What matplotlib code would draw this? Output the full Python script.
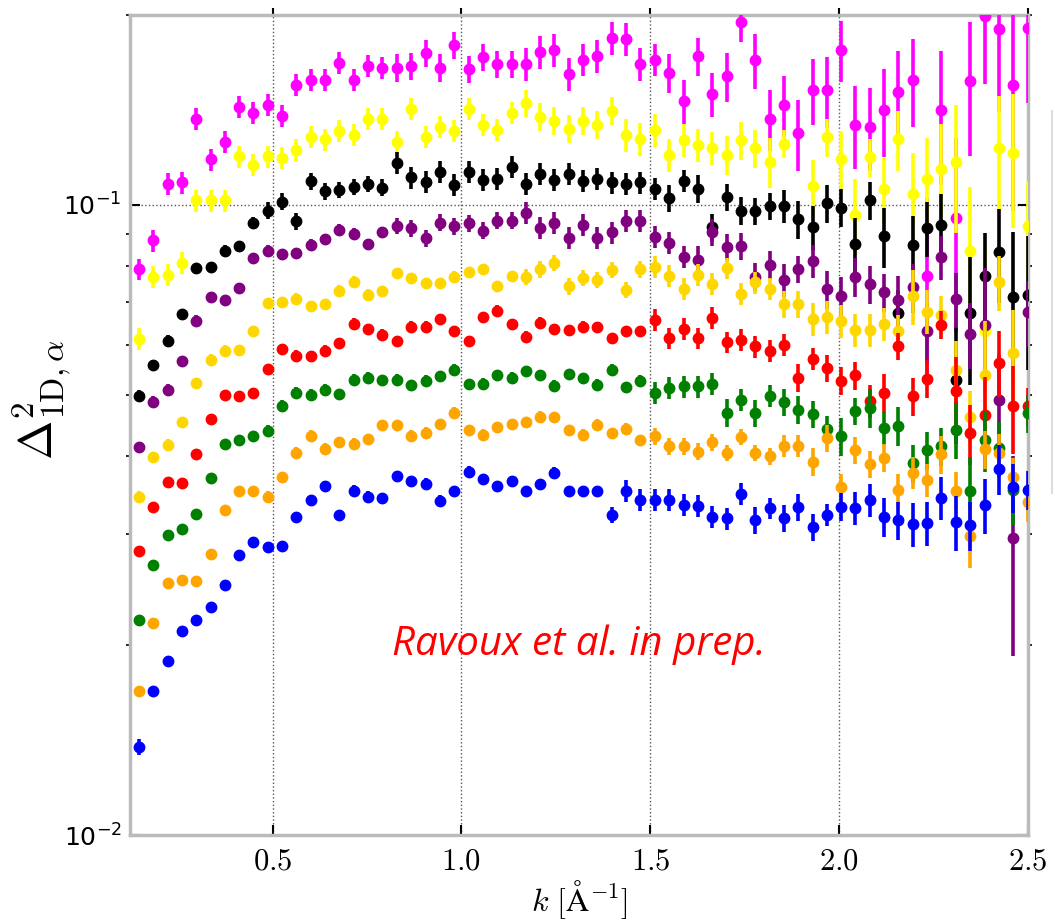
import numpy as np
import matplotlib
matplotlib.use('Agg')
import matplotlib.pyplot as plt
from matplotlib.ticker import FuncFormatter, LogLocator, FixedLocator
from matplotlib.lines import Line2D

plt.rcParams['mathtext.fontset'] = 'cm'
plt.rcParams['font.family'] = ['DejaVu Sans']

# ---- data ----
k = [0.146, 0.184, 0.222, 0.260, 0.298, 0.336, 0.373, 0.411, 0.449, 0.487,
     0.525, 0.563, 0.601, 0.639, 0.677, 0.715, 0.753, 0.791, 0.829, 0.867,
     0.905, 0.943, 0.981, 1.019, 1.057, 1.095, 1.133, 1.170, 1.208, 1.246,
     1.284, 1.322, 1.360, 1.398, 1.436, 1.474, 1.512, 1.550, 1.588, 1.626,
     1.664, 1.702, 1.740, 1.778, 1.816, 1.854, 1.892, 1.930, 1.967, 2.005,
     2.043, 2.081, 2.119, 2.157, 2.195, 2.233, 2.271, 2.309, 2.347, 2.385,
     2.423, 2.461, 2.499]

nan = np.nan

magenta = [0.079, 0.0878, 0.108, 0.1085, 0.137, 0.118, 0.126, 0.143, 0.140, 0.144,
           0.1385, 0.155, 0.158, 0.158, 0.168, 0.158, 0.166, 0.165, 0.165, 0.166,
           0.174, 0.165, 0.179, 0.164, 0.1715, 0.167, 0.167, 0.167, 0.175, 0.176,
           0.161, 0.170, 0.172, 0.184, 0.183, 0.167, 0.170, 0.162, 0.146, 0.172,
           0.150, 0.160, 0.195, 0.1695, 0.137, 0.144, 0.130, 0.152, 0.152, 0.176,
           0.134, 0.133, 0.1415, 0.151, 0.158, 0.0772, 0.1415, 0.0952, 0.157, 0.199,
           0.190, 0.155, 0.191]
yellow = [0.0612, 0.0769, 0.0774, 0.0808, 0.1016, 0.1016, 0.1016, 0.1193, 0.1157, 0.1193,
          0.1186, 0.1223, 0.128, 0.127, 0.131, 0.129, 0.137, 0.137, 0.126, 0.142,
          0.128, 0.133, 0.131, 0.142, 0.134, 0.1315, 0.140, 0.145, 0.138, 0.136,
          0.132, 0.136, 0.134, 0.141, 0.129, 0.127, 0.1315, 0.120, 0.1265, 0.1245,
          0.123, 0.120, 0.1265, 0.123, 0.117, 0.125, nan, 0.107, 0.128, 0.118,
          0.0964, 0.119, 0.106, 0.127, 0.104, 0.110, 0.114, 0.117, 0.0846, 0.063,
          0.123, 0.121, 0.0926]
black = [0.0498, 0.0557, 0.0609, 0.0671, 0.0793, 0.0796, 0.0846, 0.0859, 0.0937, 0.0979,
         0.1012, 0.0941, 0.109, 0.105, 0.1055, 0.1068, 0.108, 0.1065, 0.1167, 0.1105,
         0.1088, 0.1128, 0.1074, 0.1128, 0.1096, 0.110, 0.115, 0.108, 0.112, 0.1095,
         0.112, 0.109, 0.110, 0.1085, 0.108, 0.1085, 0.106, 0.1025, 0.109, 0.106,
         0.0922, 0.1028, 0.0979, 0.0976, 0.0994, 0.0996, 0.0949, 0.0922, 0.1006, 0.099,
         0.0866, 0.1016, 0.0891, 0.0673, 0.0864, 0.0918, 0.093, 0.0528, 0.0673, 0.0772,
         0.0843, 0.0714, 0.072]
purple = [0.0412, 0.0487, 0.0509, 0.0565, 0.0655, 0.0714, 0.0705, 0.0738, 0.0823, 0.0846,
          0.0835, 0.0838, 0.0864, 0.0882, 0.0913, 0.090, 0.0866, 0.0905, 0.0926, 0.0918,
          0.0885, 0.0937, 0.0924, 0.0935, 0.091, 0.0944, 0.0944, 0.0972, 0.092, 0.0935,
          0.0885, 0.093, 0.0885, 0.0904, 0.0944, 0.0944, 0.0889, 0.0871, 0.0826, 0.0818,
          0.0904, 0.0857, 0.0859, 0.0769, 0.0803, 0.076, 0.079, 0.0813, 0.0735, 0.0717,
          0.0769, 0.0748, 0.0726, 0.0707, 0.074, 0.063, 0.0826, 0.0709, 0.0624, 0.0645,
          0.049, 0.0296, 0.0677]
gold = [0.0344, 0.0398, 0.0416, 0.0452, 0.0521, 0.0568, 0.0587, 0.0588, 0.063, 0.0698,
        0.070, 0.071, 0.069, 0.0695, 0.073, 0.0755, 0.072, 0.0729, 0.0779, 0.0765,
        0.0751, 0.0751, 0.0769, 0.0782, 0.079, 0.0742, 0.0771, 0.0769, 0.079, 0.0808,
        0.0742, 0.0765, 0.076, 0.0788, 0.0733, 0.079, 0.0796, 0.0772, 0.0735, 0.0774,
        0.0749, 0.0793, 0.0722, 0.0753, 0.0735, 0.0695, 0.0695, 0.0658, 0.0663, 0.0655,
        0.0633, 0.0633, 0.0647, 0.063, 0.0717, 0.0677, 0.0669, 0.0547, 0.046, 0.0537,
        0.0755, 0.0581, nan]
red = [0.0282, 0.0331, 0.0363, 0.0362, 0.0402, 0.0457, 0.050, 0.0497, 0.0503, 0.0548,
       0.059, 0.0576, 0.0575, 0.0587, 0.0603, 0.0648, 0.0635, 0.0622, 0.0607, 0.0641,
       0.0641, 0.0658, 0.063, 0.0608, 0.0663, 0.0679, 0.0646, 0.0618, 0.065, 0.0635,
       0.0632, 0.0641, 0.064, 0.0614, 0.063, 0.063, 0.0657, 0.0614, 0.0635, 0.0614,
       0.0661, 0.0605, 0.061, 0.0596, 0.0587, 0.060, 0.0532, 0.0569, 0.055, 0.0526,
       0.0536, 0.0489, 0.0503, 0.0596, 0.0497, 0.053, 0.0645, 0.0507, 0.0434, 0.0464,
       0.0562, 0.0479, 0.0479]
green = [0.0219, 0.0268, 0.0299, 0.0306, 0.0323, 0.0368, 0.0417, 0.0423, 0.0429, 0.0438,
         0.048, 0.0503, 0.050, 0.0509, 0.0501, 0.0528, 0.0532, 0.0527, 0.0528, 0.0517,
         0.0526, 0.0534, 0.0547, 0.0519, 0.052, 0.0536, 0.0532, 0.0544, 0.0536, 0.0516,
         0.0539, 0.0531, 0.0518, 0.0547, 0.0513, 0.0526, 0.0503, 0.0512, 0.0515, 0.0515,
         0.052, 0.0468, 0.049, 0.0467, 0.0497, 0.0486, 0.0473, 0.0465, 0.044, 0.0429,
         0.0471, 0.0476, 0.0442, 0.0446, 0.0389, 0.0408, 0.0414, 0.0439, 0.0352, 0.0423,
         0.0411, 0.0353, 0.0467]
orange = [0.0169, 0.0217, 0.0251, 0.0254, 0.0253, 0.0279, 0.0328, 0.0352, 0.0352, 0.0344,
          0.037, 0.0404, 0.043, 0.041, 0.042, 0.0418, 0.0425, 0.0447, 0.0447, 0.043,
          0.0435, 0.0449, 0.0468, 0.0439, 0.0432, 0.0444, 0.0449, 0.0452, 0.0461, 0.046,
          0.0439, 0.0432, 0.0448, 0.0434, 0.0441, 0.0423, 0.0429, 0.0414, 0.0414, 0.0406,
          0.042, 0.0404, 0.0428, 0.0404, 0.0399, 0.0414, 0.0415, 0.0391, 0.0426, 0.0356,
          0.0408, 0.0388, 0.0397, 0.0353, 0.0376, 0.0366, 0.0402, 0.0352, 0.0298, 0.0409,
          0.0404, 0.037, 0.0338]
blue = [0.0138, 0.0169, 0.0189, 0.0211, 0.0219, 0.023, 0.0249, 0.0278, 0.0292, 0.0286,
        0.0287, 0.032, 0.034, 0.0358, 0.0322, 0.0352, 0.0344, 0.0342, 0.0371, 0.0364,
        0.0361, 0.0339, 0.0351, 0.0377, 0.0367, 0.0358, 0.0364, 0.0351, 0.036, 0.0376,
        0.0351, 0.0351, 0.0351, 0.0322, 0.0352, 0.034, 0.034, 0.034, 0.0334, 0.0333,
        0.032, 0.0318, 0.0348, 0.0316, 0.033, 0.0318, 0.0331, 0.0308, 0.0322, 0.0332,
        0.033, 0.034, 0.032, 0.0316, 0.0311, 0.0313, 0.0343, 0.0314, 0.031, 0.0334,
        0.0381, 0.0356, 0.0353]

# relative 1-sigma errors, percent
magenta_err = [4, 4, 4, 4, 4, 4, 4, 4, 4, 4, 4, 4, 4, 4, 4, 4, 4, 4,
               5, 5, 5, 5, 5, 5, 5, 5, 5, 6, 6, 6, 6, 6, 6, 6, 6, 6,
               6, 7, 8, 7, 8, 9, 7, 10, 11, 11, 13, 12, 13, 11, 15, 15, 16, 16,
               16, 33, 24, 34, 24, 22, 26, 37, 24]
yellow_err = [4, 4, 4, 4, 4, 4, 4, 4, 4, 4, 4, 4, 4, 4, 4, 4, 4, 4,
              4, 4, 4, 4, 4, 4, 4, 4, 4, 5, 5, 5, 5, 5, 5, 5, 6, 6,
              6, 6, 6, 6, 6, 7, 7, 7, 9, 5, 10, 10, 7, 11, 14, 7, 12, 11,
              16, 16, 18, 23, 26, 37, 21, 24, 18]
black_err = [2, 2, 2, 2, 2, 2, 2, 2, 2, 3, 3, 3, 3, 3, 3, 3, 3, 3,
             4, 4, 4, 4, 4, 4, 4, 4, 4, 4, 4, 4, 4, 4, 4, 4, 4, 4,
             4, 5, 4, 5, 5, 5, 5, 5, 5, 6, 7, 8, 7, 7, 10, 7, 11, 9,
             11, 10, 12, 21, 23, 17, 17, 27, 24]
purple_err = [2, 2, 2, 2, 2, 2, 2, 2, 2, 2, 2, 2, 2, 2, 2, 2, 2, 2,
              3, 3, 3, 3, 3, 3, 3, 3, 3, 4, 4, 4, 4, 4, 4, 4, 4, 4,
              4, 4, 4, 5, 5, 5, 5, 5, 5, 6, 5, 6, 7, 7, 7, 7, 7, 9,
              9, 11, 8, 10, 12, 23, 18, 35, 12]
gold_err = [2, 2, 2, 2, 2, 2, 2, 2, 2, 2, 2, 2, 2, 2, 2, 2, 2, 2,
            2, 2, 2, 2, 2, 2, 2, 2, 2, 3, 3, 3, 3, 3, 3, 3, 3, 3,
            4, 4, 4, 4, 4, 4, 4, 4, 4, 5, 5, 6, 6, 6, 6, 6, 6, 6,
            10, 8, 7, 11, 10, 22, 10, 17, 10]
red_err = [1, 1, 1, 1, 1, 1, 1, 1, 1, 2, 2, 2, 2, 2, 2, 2, 2, 2,
           2, 2, 2, 2, 2, 2, 2, 2, 2, 2, 2, 2, 2, 2, 2, 2, 2, 2,
           4, 4, 4, 4, 4, 4, 4, 4, 4, 4, 5, 4, 5, 5, 5, 6, 7, 5,
           7, 7, 5, 13, 11, 15, 12, 16, 7]
green_err = [1, 1, 1, 1, 1, 1, 1, 1, 1, 2, 2, 2, 2, 2, 2, 2, 2, 2,
             2, 2, 2, 2, 2, 2, 2, 2, 2, 2, 2, 2, 2, 2, 2, 2, 2, 2,
             4, 4, 4, 4, 4, 5, 4, 5, 4, 5, 5, 5, 5, 7, 5, 7, 6, 7,
             7, 7, 7, 10, 13, 11, 10, 12, 7]
orange_err = [1, 1, 1, 1, 1, 1, 1, 1, 1, 2, 2, 2, 2, 2, 2, 2, 2, 2,
              2, 2, 2, 2, 2, 2, 2, 2, 2, 2, 2, 2, 2, 2, 2, 2, 2, 2,
              3, 3, 3, 3, 3, 3, 3, 3, 3, 4, 4, 5, 5, 5, 5, 5, 5, 6,
              6, 6, 7, 7, 11, 7, 7, 7, 7]
blue_err = [3, 1, 1, 1, 1, 1, 1, 1, 1, 1, 1, 1, 1, 2, 2, 2, 2, 2,
            2, 2, 2, 2, 2, 2, 2, 2, 2, 2, 2, 2, 2, 2, 2, 3, 4, 4,
            4, 4, 4, 4, 4, 4, 4, 5, 4, 5, 5, 5, 4, 5, 6, 6, 7, 7,
            8, 8, 8, 10, 9, 10, 9, 9, 7]

series = [
    (magenta, magenta_err, '#ff00ff'),
    (yellow, yellow_err, '#ffff00'),
    (black, black_err, '#000000'),
    (purple, purple_err, '#800080'),
    (gold, gold_err, '#ffd700'),
    (red, red_err, '#ff0000'),
    (green, green_err, '#008000'),
    (orange, orange_err, '#ffa500'),
    (blue, blue_err, '#0000ff'),
]

fig = plt.figure(figsize=(10.55, 9.23), dpi=100)
ax = fig.add_axes([0.1232, 0.0953, 0.8512, 0.8884])

kk = np.array(k)
for i, (vals, err, col) in enumerate(series):
    y = np.array(vals, dtype=float)
    e = y * np.array(err) / 100.0
    ax.errorbar(kk, y, yerr=e, fmt='o', color=col, mec=col, ms=7.5,
                elinewidth=2.6, capsize=0, zorder=3 + i)

ax.set_yscale('log')
ax.set_xlim(0.1225, 2.5)
ax.set_ylim(0.01, 0.2)

xticks = [0.5, 1.0, 1.5, 2.0, 2.5]
ax.xaxis.set_major_locator(FixedLocator(xticks))
ax.xaxis.set_major_formatter(FuncFormatter(lambda x, p: r'$%.1f$' % x))
ax.yaxis.set_major_locator(LogLocator(base=10))
ax.yaxis.set_minor_locator(LogLocator(base=10, subs=np.arange(2, 10)))
ax.yaxis.set_minor_formatter(FuncFormatter(lambda x, p: ''))

ax.grid(True, which='major', linestyle=':', color='#555555', linewidth=1.0, zorder=1)
ax.set_axisbelow(True)

for s in ax.spines.values():
    s.set_color('#bbbbbb')
    s.set_linewidth(2.5)

ax.tick_params(axis='x', which='major', direction='in', length=7, width=1.5,
               labelsize=22, pad=8, color='k')
ax.tick_params(axis='y', which='major', direction='in', length=7, width=1.5,
               right=True, labelsize=18, pad=6, color='k')
ax.tick_params(axis='y', which='minor', direction='out', length=3, width=1.2,
               right=True, left=True, color='k')

# small outward marks above the top spine
top = ax.secondary_xaxis('top')
top.set_xticks(xticks)
top.tick_params(direction='out', length=5, width=1.5, color='k', labeltop=False)
top.spines['top'].set_visible(False)

ax.set_xlabel(r'$k\ [\mathrm{\AA}^{-1}]$', fontsize=23, va='top')
ax.xaxis.set_label_coords(0.5, -0.053)
ax.set_ylabel(r'$\Delta^2_{\rm 1D,\alpha}$', fontsize=34)
ax.yaxis.set_label_coords(-0.064, 0.53)

ax.text(0.5, 0.232, 'Ravoux et al. in prep.', transform=ax.transAxes,
        color='#ff0000', fontsize=29, fontstyle='italic', family='Open Sans',
        ha='center', va='center')

# faint panel edge at the right border of the slide crop
fig.add_artist(Line2D([0.9975, 0.9975], [0.466, 0.88], transform=fig.transFigure,
                      color='#dddddd', linewidth=1.5))

fig.savefig('out.png', dpi=100)
